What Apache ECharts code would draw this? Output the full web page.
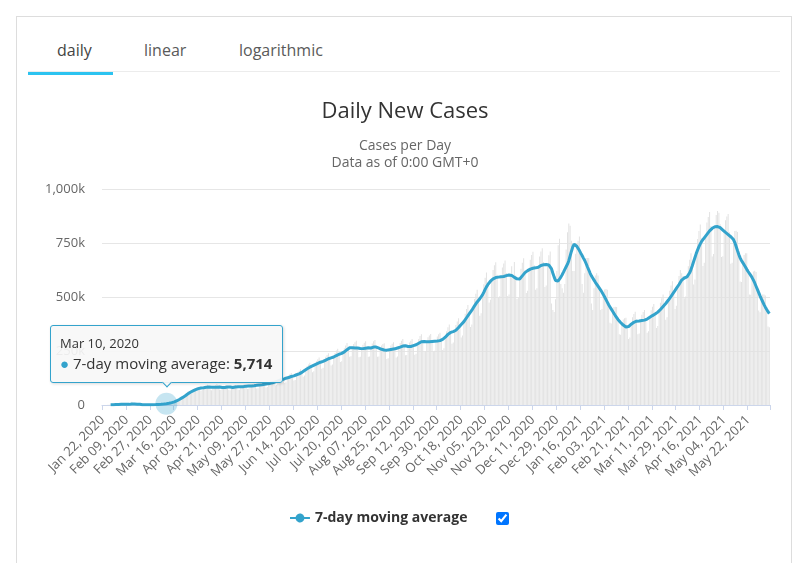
<!DOCTYPE html>
<html>
<head>
<meta charset="utf-8">
<script src="https://cdn.jsdelivr.net/npm/echarts@6/dist/echarts.min.js"></script>
<style>
    html, body { margin: 0; padding: 0; background: #fff; font-family: "Open Sans", sans-serif; }
    #page { position: relative; width: 800px; height: 563px; overflow: hidden; }
    .card { position: absolute; left: 16px; top: 16px; width: 776px; height: 600px; border: 1px solid #dddddd; box-sizing: border-box; }
    .tabline { position: absolute; left: 28px; top: 71px; width: 752px; height: 1px; background: #ececec; }
    .tab { position: absolute; top: 39px; font-size: 16px; line-height: 22px; color: #5a5a5a; }
    .tab.active { color: #444; }
    .underline { position: absolute; left: 28px; top: 72px; width: 85px; height: 3px; background: #2cc3f0; }
    #chart { position: absolute; left: 0; top: 0; width: 800px; height: 563px; z-index: 1; }
    #toggle { position: absolute; left: 496px; top: 512px; width: 13px; height: 13px; margin: 0; z-index: 2; }
</style>
</head>
<body>
<div id="page">
    <div class="card"></div>
    <div class="tabline"></div>
    <span class="tab active" style="left:57px">daily</span>
    <span class="tab" style="left:144px">linear</span>
    <span class="tab" style="left:239px">logarithmic</span>
    <div class="underline"></div>
    <div id="chart"></div>
    <input id="toggle" type="checkbox" checked>
</div>
<script>
    // values in thousands of cases, one per day from Jan 22, 2020
    var startDay = [2020, 0, 22];
    var months = ["Jan", "Feb", "Mar", "Apr", "May", "Jun", "Jul", "Aug", "Sep", "Oct", "Nov", "Dec"];

    var movingAvg = [
        // Jan 2020 (from 22nd)
        null, null, null, null, null, null, 0.7, 0.9, 1.1, 1.4,
        // Feb 2020
        2.0, 2.3, 2.6, 2.9, 3.1, 3.2, 3.3, 3.3, 3.2, 3.1, 2.9, 2.8, 4.6, 4.5, 4.4, 4.2, 4.0, 3.7, 3.4,
        1.5, 1.2, 1.0, 0.9, 0.9, 0.9, 1.0, 1.1, 1.3, 1.5,
        // Mar 2020
        1.7, 1.9, 2.2, 2.5, 2.8, 3.3, 3.8, 4.3, 4.9, 5.714, 6.6, 7.8, 9.3, 10.9, 12.6, 14.6, 17.0, 19.8,
        23.1, 26.7, 30.4, 34.0, 37.9, 42.0, 46.2, 50.8, 55.0, 58.9, 62.1, 65.0, 68.3,
        // Apr 2020
        71, 74, 76, 78, 79, 80, 80, 81, 82, 82, 83, 83, 82, 82, 82, 81, 82, 83, 83, 82,
        81, 81, 81, 82, 83, 83, 83, 82, 81, 82,
        // May 2020
        83, 84, 84, 84, 84, 84, 85, 86, 87, 88, 88, 88, 88, 88, 89, 90, 91, 92, 93, 93,
        94, 95, 96, 97, 98, 99, 100, 101, 103, 105, 107,
        // Jun 2020
        109, 111, 114, 116, 117, 119, 121, 124, 126, 127, 129, 132, 134, 135, 137, 140, 142, 144, 147, 151,
        156, 160, 164, 168, 171, 175, 178, 181, 184, 187,
        // Jul 2020
        190, 193, 196, 198, 200, 202, 205, 208, 211, 214, 216, 218, 220, 222, 225, 229, 232, 235, 237, 239,
        242, 246, 251, 256, 261, 265, 266, 265, 264, 264, 265,
        // Aug 2020
        264, 263, 262, 261, 261, 262, 263, 264, 265, 265, 264, 266, 268, 269, 268, 266, 263, 260, 258, 256,
        255, 254, 254, 255, 256, 257, 258, 259, 260, 262, 264,
        // Sep 2020
        266, 268, 270, 273, 275, 274, 272, 271, 270, 271, 273, 275, 277, 279, 282, 286, 290, 293, 294, 294,
        293, 293, 293, 293, 294, 294, 295, 295, 296, 296,
        // Oct 2020
        297, 298, 300, 304, 309, 314, 320, 327, 333, 336, 338, 340, 342, 346, 352, 359, 366, 373, 379, 386,
        395, 404, 413, 422, 430, 439, 449, 459, 468, 477, 485,
        // Nov 2020
        492, 500, 510, 522, 535, 547, 557, 566, 573, 579, 584, 588, 590, 591, 592, 593, 594, 594, 595, 597,
        599, 601, 602, 602, 600, 596, 591, 587, 584, 582,
        // Dec 2020
        583, 590, 598, 606, 613, 618, 622, 626, 629, 631, 633, 634, 635, 636, 638, 642, 646, 648, 649, 650,
        650, 649, 648, 646, 630, 610, 592, 576, 570, 574, 583,
        // Jan 2021
        592, 603, 615, 628, 640, 652, 668, 690, 712, 732, 744, 742, 735, 726, 715, 703, 692, 680, 669, 655,
        640, 626, 611, 598, 588, 578, 568, 559, 550, 541, 532,
        // Feb 2021
        522, 511, 500, 488, 476, 464, 454, 444, 434, 424, 414, 405, 396, 389, 382, 376, 370, 365, 361, 360,
        363, 368, 374, 379, 383, 386, 388, 389,
        // Mar 2021
        389, 390, 391, 392, 393, 395, 398, 402, 406, 410, 414, 418, 421, 425, 430, 436, 442, 449, 456, 463,
        470, 478, 486, 494, 503, 512, 521, 530, 540, 549, 558,
        // Apr 2021
        568, 578, 585, 588, 590, 593, 600, 612, 627, 645, 664, 683, 702, 718, 733, 746, 757, 766, 774, 782,
        790, 798, 806, 813, 818, 822, 825, 826, 826, 824,
        // May 2021
        821, 816, 810, 804, 799, 794, 789, 784, 779, 774, 766, 752, 734, 715, 697, 681, 669, 659, 649, 639,
        628, 618, 609, 600, 590, 578, 565, 550, 535, 520, 505,
        // Jun 2021
        491, 478, 465, 453, 442, 432, 423
    ];

    var dailyCases = [
        // Jan 2020 (from 22nd)
        0, 0.1, 0.3, 0.5, 0.7, 0.8, 1.8, 1.5, 2.1, 2.0,
        // Feb 2020
        2.6, 2.8, 3.2, 3.9, 3.7, 3.2, 3.4, 2.7, 3.0, 2.5, 2.0, 2.0, 15.1, 6.5, 2.6, 2.1, 2.0, 1.9, 1.8,
        0.5, 1.0, 1.0, 0.6, 0.6, 0.8, 1.0, 1.3, 1.8, 1.8,
        // Mar 2020
        1.9, 1.9, 2.6, 2.3, 2.8, 3.9, 4.0, 3.8, 4.2, 4.8, 7.3, 7.5, 10.7, 10.9, 11.0, 13.6, 15.1, 17.8,
        27, 32, 31, 33, 41, 42, 49, 61, 64, 66, 60, 62, 73,
        // Apr 2020
        76, 81, 85, 83, 66, 70, 78, 87, 88, 94, 85, 72, 68, 80, 86, 91, 96, 84, 72, 70,
        79, 86, 88, 93, 87, 70, 68, 80, 85, 90,
        // May 2020
        93, 86, 71, 71, 84, 90, 94, 96, 89, 74, 75, 88, 94, 97, 100, 92, 76, 78, 93, 100,
        103, 106, 98, 81, 83, 99, 107, 111, 115, 107, 90,
        // Jun 2020
        93, 111, 122, 128, 131, 121, 102, 105, 126, 136, 142, 148, 137, 113, 116, 140, 152, 158, 165, 154,
        131, 136, 164, 180, 188, 196, 182, 152, 156, 187,
        // Jul 2020
        203, 212, 220, 202, 168, 172, 205, 223, 232, 240, 220, 183, 187, 222, 241, 252, 260, 240, 199, 203,
        242, 263, 276, 287, 266, 223, 226, 265, 282, 290, 297,
        // Aug 2020
        269, 221, 223, 261, 279, 288, 295, 269, 223, 225, 264, 285, 295, 301, 273, 223, 224, 260, 276, 282,
        286, 259, 213, 217, 256, 275, 284, 290, 265, 220, 224,
        // Sep 2020
        266, 287, 297, 306, 281, 230, 231, 271, 289, 298, 306, 281, 233, 237, 282, 306, 319, 328, 300, 247,
        249, 293, 314, 322, 329, 300, 248, 251, 296, 317,
        // Oct 2020
        327, 334, 306, 255, 263, 314, 342, 360, 373, 343, 284, 289, 342, 370, 387, 402, 373, 313, 322, 386,
        423, 444, 463, 430, 361, 373, 449, 491, 515, 534, 495,
        // Nov 2020
        413, 425, 510, 559, 589, 613, 568, 475, 487, 579, 625, 647, 661, 603, 497, 504, 594, 636, 655, 669,
        611, 505, 512, 602, 642, 600, 662, 599, 491, 495,
        // Dec 2020
        583, 631, 658, 679, 625, 519, 529, 626, 673, 694, 709, 647, 533, 541, 638, 687, 711, 726, 662, 546,
        553, 649, 693, 711, 470, 440, 430, 490, 620, 740, 770,
        // Jan 2021
        560, 540, 520, 560, 720, 800, 840, 830, 760, 620, 620, 700, 750, 760, 780, 690, 560, 520, 610, 680,
        680, 680, 600, 470, 440, 540, 600, 610, 600, 540, 440,
        // Feb 2021
        444, 511, 535, 537, 533, 473, 381, 377, 434, 454, 455, 454, 404, 327, 325, 376, 396, 402, 404, 367,
        305, 313, 374, 406, 421, 432, 396, 327,
        // Mar 2021
        331, 390, 418, 431, 440, 403, 334, 342, 406, 439, 455, 468, 429, 357, 366, 436, 473, 494, 511, 472,
        395, 406, 486, 529, 553, 573, 531, 445, 459, 549, 597,
        // Apr 2021
        625, 610, 597, 494, 502, 593, 642, 673, 702, 658, 558, 581, 702, 768, 806, 836, 772, 643, 658, 782,
        845, 870, 893, 829, 687, 699, 825, 880, 898, 890,
        // May 2021
        837, 685, 689, 804, 855, 873, 884, 800, 654, 658, 766, 805, 807, 801, 711, 572, 569, 659, 694, 703,
        703, 630, 512, 510, 590, 618, 622, 616, 546, 437, 429,
        // Jun 2021
        491, 511, 512, 507, 451, 363, 360
    ];

    var yTicks = [0, 250, 500, 750, 1000];
    var tipIndex = 48; // Mar 10, 2020, the point with the tooltip open
    var lineColor = "#33a3cc";

    function pad(n) {
        return n < 10 ? "0" + n : "" + n;
    }

    var categories = [];
    for (var i = 0; i < movingAvg.length; i++) {
        var d = new Date(Date.UTC(startDay[0], startDay[1], startDay[2] + i));
        categories.push(months[d.getUTCMonth()] + " " + pad(d.getUTCDate()) + ", " + d.getUTCFullYear());
    }

    var lineData = movingAvg.map(function (v, idx) {
        if (idx !== tipIndex) return v;
        return {
            value: v,
            symbol: "circle",
            symbolSize: 22,
            itemStyle: { color: "rgba(51,163,204,0.28)" }
        };
    });

    var chart = echarts.init(document.getElementById("chart"), null, { renderer: "canvas" });

    var option = {
        animation: false,
        textStyle: { fontFamily: "Open Sans" },
        title: {
            text: "Daily New Cases",
            subtext: "Cases per Day\nData as of 0:00 GMT+0",
            left: 405,
            top: 101,
            padding: 0,
            textAlign: "center",
            itemGap: 15,
            textStyle: { fontSize: 22, fontWeight: "normal", color: "#333", fontFamily: "Open Sans" },
            subtextStyle: { fontSize: 14, color: "#666", lineHeight: 17, fontFamily: "Open Sans" }
        },
        grid: { left: 102, right: 30, top: 189, bottom: 158, containLabel: false },
        legend: {
            left: 290,
            top: 511,
            padding: 0,
            itemWidth: 20,
            itemHeight: 9,
            selectedMode: false,
            textStyle: { fontSize: 14, fontWeight: "bold", color: "#333", fontFamily: "Open Sans" },
            data: [{
                name: "7-day moving average",
                icon: "path://M0,3.5H5.61A4.5,4.5 0 0 1 14.39,3.5H20V5.5H14.39A4.5,4.5 0 0 1 5.61,5.5H0Z",
                itemStyle: { color: lineColor }
            }]
        },
        tooltip: {
            trigger: "item",
            triggerOn: "none",
            alwaysShowContent: true,
            position: "top",
            transitionDuration: 0,
            backgroundColor: "rgba(247,247,247,0.92)",
            borderColor: lineColor,
            borderWidth: 1,
            padding: [8, 10, 8, 9],
            textStyle: { fontFamily: "Open Sans", fontSize: 15, color: "#333" },
            extraCssText: "border-radius:3px;box-shadow:1px 1px 3px rgba(0,0,0,0.15);",
            formatter: function (p) {
                var n = Math.round(p.value * 1000).toLocaleString("en-US");
                return '<div style="font-size:13px;line-height:19px;">' + categories[p.dataIndex] + '</div>' +
                    '<div style="line-height:21px;"><span style="color:' + lineColor + ';">\u25CF</span> ' +
                    p.seriesName + ': <b>' + n + '</b></div>';
            }
        },
        xAxis: {
            type: "category",
            data: categories,
            boundaryGap: true,
            axisLine: { lineStyle: { color: "#ccd6eb" } },
            axisTick: { show: true, interval: 17, length: 5, lineStyle: { color: "#ccd6eb" } },
            axisLabel: {
                interval: 17,
                rotate: 45,
                margin: 13,
                fontSize: 13,
                color: "#666",
                fontFamily: "Open Sans"
            },
            splitLine: { show: false }
        },
        yAxis: {
            type: "value",
            min: yTicks[0],
            max: yTicks[yTicks.length - 1],
            interval: yTicks[1] - yTicks[0],
            axisLine: { show: false },
            axisTick: { show: false },
            axisLabel: {
                margin: 17,
                fontSize: 13,
                color: "#666",
                fontFamily: "Open Sans",
                formatter: function (v) {
                    return v === 0 ? "0" : v.toLocaleString("en-US") + "k";
                }
            },
            splitLine: { lineStyle: { color: "#e6e6e6" } }
        },
        series: [
            {
                name: "Daily Cases",
                type: "bar",
                data: dailyCases,
                barWidth: "72%",
                silent: true,
                itemStyle: { color: "#e2e2e2" },
                z: 1
            },
            {
                name: "7-day moving average",
                type: "line",
                data: lineData,
                symbol: "none",
                showSymbol: true,
                showAllSymbol: true,
                lineStyle: { color: lineColor, width: 3 },
                itemStyle: { color: lineColor },
                emphasis: { disabled: true },
                z: 3
            }
        ]
    };

    chart.setOption(option);
    chart.dispatchAction({ type: "showTip", seriesIndex: 1, dataIndex: tipIndex });
</script>
</body>
</html>
